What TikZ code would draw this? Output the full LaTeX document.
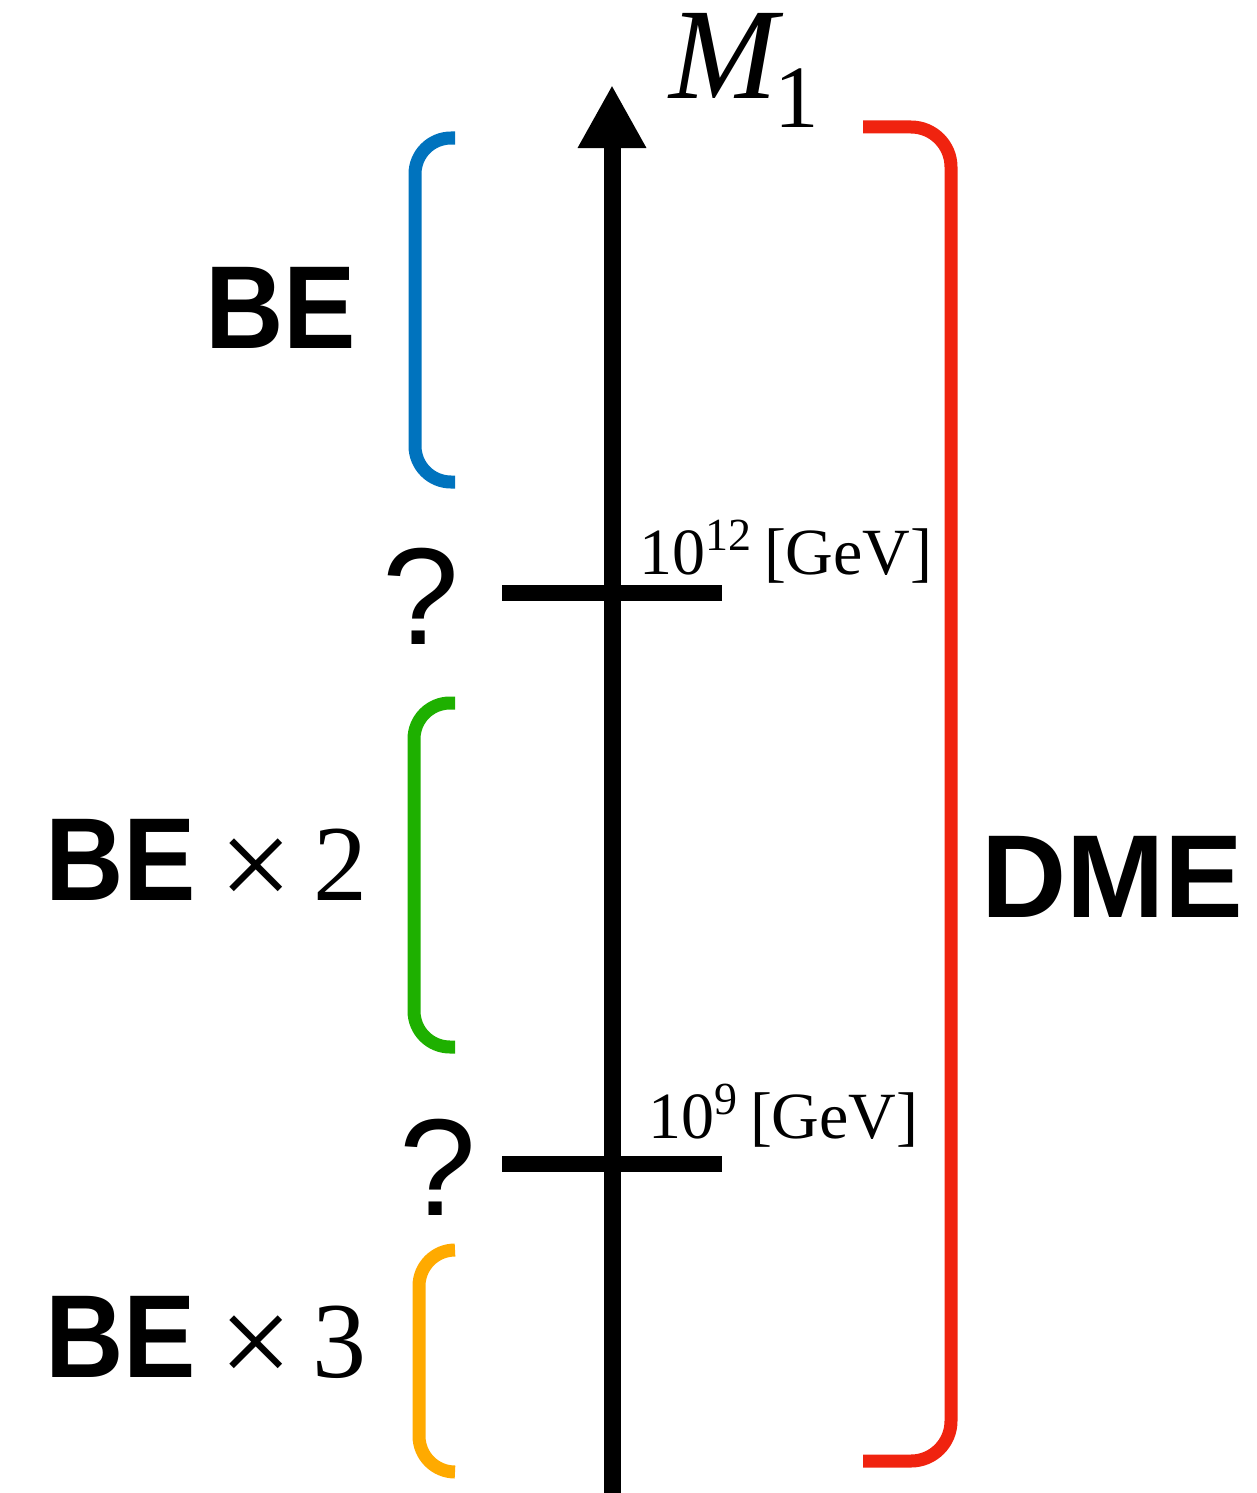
\documentclass[tikz,border=0pt]{standalone}
\usepackage{fontspec}
\usepackage{graphicx}
\setmainfont{Liberation Serif}
\newfontfamily\sansf{Liberation Sans}
\usetikzlibrary{arrows.meta}
\definecolor{cblue}{RGB}{0,115,190}
\definecolor{cgreen}{RGB}{30,176,0}
\definecolor{corange}{RGB}{255,170,0}
\definecolor{cred}{RGB}{240,35,15}
\newcommand{\bigsans}{\sansf\bfseries\fontsize{118}{120}\selectfont}
\newcommand{\BEtext}{\scalebox{0.92}[1]{\bigsans BE}}
\newcommand{\qsans}{\sansf\fontsize{138}{140}\selectfont}
\newcommand{\timesx}{\raisebox{-8pt}{\fontsize{130}{130}\selectfont\symbol{"00D7}}}
\newcommand{\numser}{\fontsize{108}{110}\selectfont}
\newcommand{\lblser}{\fontsize{66}{70}\selectfont}
\newcommand{\supser}{\fontsize{46}{46}\selectfont}
\begin{document}
\begin{tikzpicture}[x=1pt,y=-1pt,
  txt/.style={inner sep=0pt,outer sep=0pt,anchor=base west},
  brack/.style={line width=13pt,line cap=butt},
  axisline/.style={line width=17pt,-{Triangle[length=63pt,width=64pt]}},
  tickline/.style={line width=16pt}]
\useasboundingbox (0,0) rectangle (1256,1493);
% axis
\coordinate (axbot) at (612,1493);
\coordinate (axtop) at (612,85);
\draw[axisline] (axbot) -- (axtop);
% ticks
\coordinate (t1l) at (502,593); \coordinate (t1r) at (722,593);
\coordinate (t2l) at (502,1164); \coordinate (t2r) at (722,1164);
\draw[tickline] (t1l) -- (t1r);
\draw[tickline] (t2l) -- (t2r);
% brackets
\draw[brack,cblue,rounded corners=36pt] (455,138) -- (415,138) -- (415,482) -- (455,482);
\draw[brack,cgreen,rounded corners=36pt] (455,703) -- (414,703) -- (414,1047) -- (455,1047);
\draw[brack,corange,rounded corners=36pt] (455,1250) -- (419,1250) -- (419,1472) -- (455,1472);
\draw[brack,cred,rounded corners=40pt] (863,127) -- (951,127) -- (951,1461) -- (863,1461);
% labels
\node[txt] (m1) at (669,99) {\fontsize{130}{130}\selectfont\itshape M\upshape\hspace{-3pt}\raisebox{-29pt}{\fontsize{89}{89}\selectfont 1}};
\node[txt] (be1) at (205,348) {\BEtext};
\node[txt] (be2) at (45,900) {\BEtext\hspace{24pt}\timesx\hspace{20pt}{\numser 2}};
\node[txt] (be3) at (45,1377) {\BEtext\hspace{24pt}\timesx\hspace{19pt}{\numser 3}};
\node[txt] (dme) at (981,917) {\bigsans DME};
\node[txt] (q1) at (382,644) {\qsans ?};
\node[txt] (q2) at (399,1215) {\qsans ?};
\node[txt] (l12) at (639,574) {\lblser 10\raisebox{24pt}{\supser 12}\hspace{13pt}[GeV]};
\node[txt] (l9) at (648,1138) {\lblser 10\raisebox{24pt}{\supser 9}\hspace{13pt}[GeV]};
\end{tikzpicture}
\end{document}
